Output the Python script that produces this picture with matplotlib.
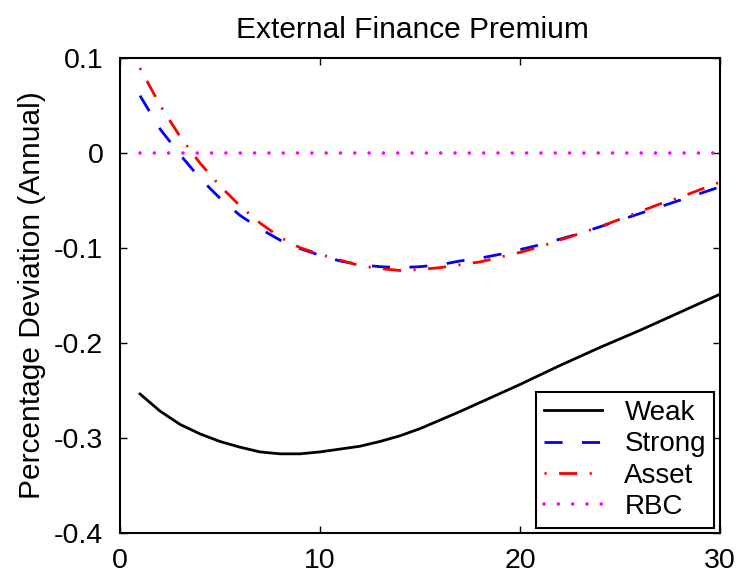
import numpy as np
import matplotlib
matplotlib.use("Agg")
import matplotlib.pyplot as plt
from matplotlib.ticker import FuncFormatter

plt.rcParams['font.family'] = ['Liberation Sans', 'DejaVu Sans']
plt.rcParams['lines.scale_dashes'] = False

# quarters after the shock
periods = np.arange(1, 31)

weak = [-0.254, -0.272, -0.286, -0.296, -0.304, -0.310, -0.315, -0.317, -0.317, -0.315,
        -0.312, -0.309, -0.304, -0.298, -0.2905, -0.2815, -0.2725, -0.263, -0.2535, -0.244,
        -0.234, -0.224, -0.2145, -0.205, -0.196, -0.187, -0.1775, -0.168, -0.1585, -0.149]
strong = [0.060, 0.025, -0.002, -0.027, -0.048, -0.066, -0.080, -0.092, -0.101, -0.108,
          -0.114, -0.118, -0.120, -0.121, -0.120, -0.118, -0.114, -0.111, -0.107, -0.102,
          -0.097, -0.091, -0.085, -0.078, -0.071, -0.064, -0.057, -0.050, -0.043, -0.036]
asset = [0.089, 0.050, 0.017, -0.011, -0.035, -0.056, -0.074, -0.089, -0.100, -0.107,
         -0.113, -0.119, -0.122, -0.124, -0.123, -0.121, -0.118, -0.115, -0.110, -0.105,
         -0.099, -0.092, -0.085, -0.078, -0.070, -0.062, -0.054, -0.047, -0.039, -0.031]
rbc = [0.0] * 30

labels = ["Weak", "Strong", "Asset", "RBC"]
xticks = [0, 10, 20, 30]
yticks = [-0.4, -0.3, -0.2, -0.1, 0, 0.1]

fig = plt.figure(figsize=(7.44, 5.75), dpi=100)
ax = fig.add_axes([0.1613, 0.0736, 0.8064, 0.8261])

ax.plot(periods, weak, color='black', lw=2.0, label=labels[0])
ax.plot(periods, strong, color='blue', lw=2.0, linestyle=(0, (13, 14)), label=labels[1])
ax.plot(periods, asset, color='red', lw=2.0, linestyle=(0, (1.5, 9, 13, 9)), label=labels[2])
ax.plot(periods, rbc, color='magenta', lw=2.6, linestyle=(0, (0.01, 10.3)),
        dash_capstyle='round', label=labels[3])

ax.set_xlim(0, 30)
ax.set_ylim(-0.4, 0.1)
ax.set_xticks(xticks)
ax.set_yticks(yticks)
ax.yaxis.set_major_formatter(FuncFormatter(lambda v, p: "0" if abs(v) < 1e-9 else "%g" % v))
ax.tick_params(direction='in', length=5, width=1, top=True, right=True, labelsize=20.5)
ax.tick_params(axis='y', pad=12)
ax.tick_params(axis='x', pad=11)
for s in ax.spines.values():
    s.set_linewidth(1.5)

ax.set_title("External Finance Premium", fontsize=21.5, pad=14, x=0.487)
ax.set_ylabel("Percentage Deviation (Annual)", fontsize=21.5, labelpad=6)

leg = ax.legend(loc='lower right', bbox_to_anchor=(0.9905, 0.0093), borderaxespad=0,
                fontsize=20, handlelength=2.1, labelspacing=0.19, handletextpad=0.8,
                fancybox=False, framealpha=1, edgecolor='black', borderpad=0.3)
leg.get_frame().set_linewidth(1.5)

fig.savefig("out.png", dpi=100)
